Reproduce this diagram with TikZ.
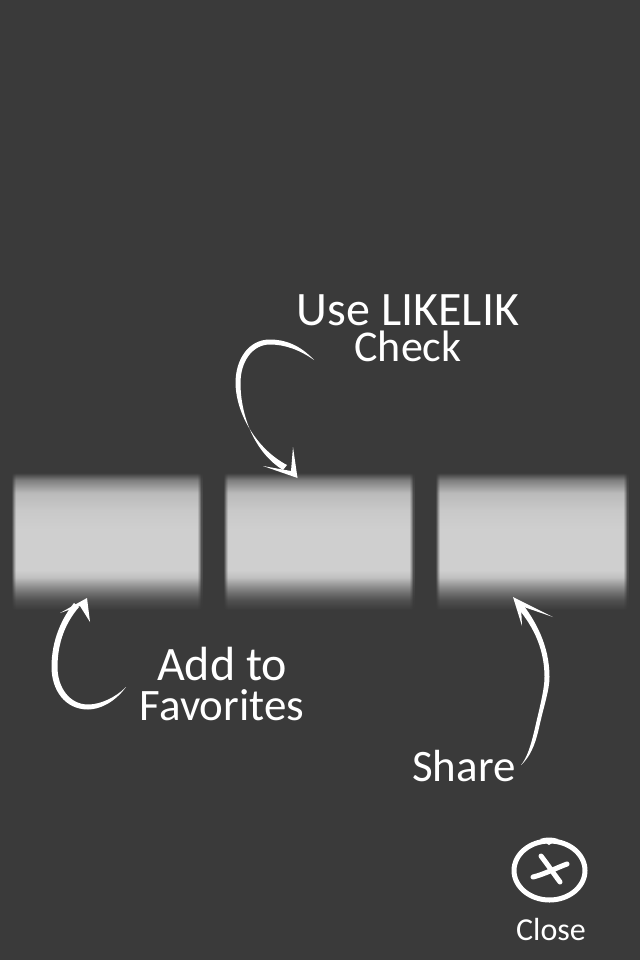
\documentclass[tikz,border=0pt]{standalone}
\usepackage{fontspec}
\setmainfont{Carlito}
\definecolor{bgc}{HTML}{3A3A3A}
\definecolor{barc}{HTML}{CFCFCF}
\pgfdeclareverticalshading{barfade}{100bp}{
  color(0bp)=(bgc); color(25bp)=(bgc); color(28.5bp)=(barc!15!bgc); color(31bp)=(barc!35!bgc);
  color(33.8bp)=(barc!62!bgc); color(36.5bp)=(barc!90!bgc); color(39bp)=(barc); color(53bp)=(barc);
  color(60bp)=(barc!96!bgc); color(66.2bp)=(barc!86!bgc); color(70.8bp)=(barc!45!bgc);
  color(73.3bp)=(bgc); color(100bp)=(bgc)}
\tikzset{
  barbox/.style={shade,shading=barfade,minimum width=#1,minimum height=142pt,inner sep=0pt,draw=none},
  hand/.style={text=white,inner sep=0pt,align=center},
  ink/.style={fill=white,draw=none},
  ringline/.style={draw=white,line width=5pt,line cap=round}
}
\newcommand{\sz}[2]{\fontsize{#1}{#2}\selectfont}
\begin{document}
\begin{tikzpicture}[x=1pt,y=-1pt]
\useasboundingbox (0,0) rectangle (640,960);
\fill[bgc] (0,0) rectangle (640,960);
% bars
\node[barbox=190pt] (fav) at (107,539) {};
\node[barbox=190pt] (chk) at (319,539) {};
\node[barbox=192pt] (shr) at (532,539) {};
% soft vertical edges of the bars
\foreach \xa/\d in {12/1,202/-1,224/1,414/-1,436/1,628/-1}{
  \fill[bgc,opacity=.85] (\xa,466) rectangle ++(\d*1,146);
  \fill[bgc,opacity=.6] (\xa+\d,466) rectangle ++(\d*1,146);
  \fill[bgc,opacity=.35] (\xa+2*\d,466) rectangle ++(\d*1,146);
  \fill[bgc,opacity=.15] (\xa+3*\d,466) rectangle ++(\d*1,146);
}
% labels
\node[hand] (lchk) at (408,328) {\sz{48}{36}Use LIKELIK\\[4pt]\sz{44}{36}Check};
\node[hand] (lfav) at (222,684) {\sz{48}{40}Add to\\[7pt]\sz{45}{40}Favorites};
\node[hand] (lshr) at (464,766) {\sz{45}{45}Share};
\node[hand] (lcls) at (551,929) {\sz{32}{32}Close};
% arrow ends
\coordinate (chkTail) at (314,360);
\coordinate (chkTip) at (297.5,478);
\coordinate (favTail) at (126,687);
\coordinate (favTip) at (87,598);
\coordinate (shrTail) at (521,765);
\coordinate (shrTip) at (513,597);
% Use LIKELIK arrow
\fill[ink] (chkTail) .. controls (300,345) and (285,339.5) .. (270,339.5)
  .. controls (248,339.5) and (235.5,360) .. (235.5,383)
  .. controls (236,415) and (258,450) .. (287,465) -- (283,470)
  .. controls (254,452) and (240.5,415) .. (240.5,383)
  .. controls (240.5,362) and (252,344.5) .. (270,344.5)
  .. controls (285,344.5) and (300,350) .. (chkTail) -- cycle;
\fill[ink] (263,466) -- (chkTip) -- (293,447) -- (291,471) -- cycle;
% Add to Favorites arrow
\fill[ink] (favTail) .. controls (115,702) and (100,709.5) .. (88,709.5)
  .. controls (65,709.5) and (51.5,690) .. (51.5,667)
  .. controls (51.5,640) and (62,618) .. (74,603) -- (79,607)
  .. controls (66,622) and (57.5,642) .. (57.5,667)
  .. controls (57.5,688) and (70,704.5) .. (88,704.5)
  .. controls (100,704.5) and (115,698) .. (favTail) -- cycle;
\fill[ink] (60,613) -- (favTip) -- (90,622) -- (80,606) -- cycle;
% Share arrow
\fill[ink] (shrTail) .. controls (530,757) and (535,745) .. (538.5,730)
  .. controls (544,705) and (549.5,690) .. (549.5,677)
  .. controls (549.5,645) and (535,620) .. (521,602) -- (516,606)
  .. controls (530,622) and (544.5,645) .. (544.5,677)
  .. controls (544.5,690) and (539,710) .. (534.5,730)
  .. controls (531,745) and (527,758) .. (shrTail) -- cycle;
\fill[ink] (522,626) -- (shrTip) -- (553,617) -- (521,606) -- cycle;
% Close icon
\draw[ringline] (549.5,870.5) ellipse [x radius=35.5,y radius=29.5];
\fill[ink] (540,839) .. controls (545,837) and (553,837) .. (558,839) -- (549,845) -- cycle;
\draw[ringline] (533,877) .. controls (545,874) and (556,868) .. (567,864);
\draw[ringline] (541,856) .. controls (548,865) and (554,874) .. (560,882);
\end{tikzpicture}
\end{document}
